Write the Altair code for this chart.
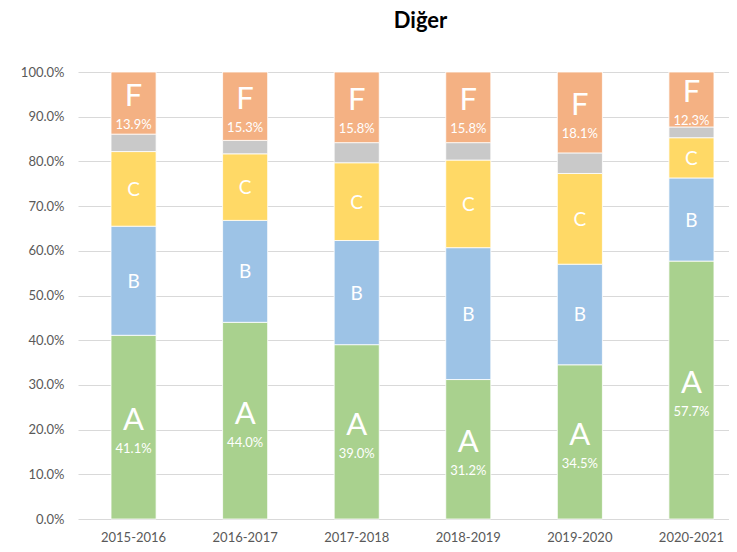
import altair as alt
import pandas as pd

years = ["2015-2016", "2016-2017", "2017-2018", "2018-2019", "2019-2020", "2020-2021"]
cats = ["A", "B", "C", "D", "F"]
A = [41.1, 44.0, 39.0, 31.2, 34.5, 57.7]
B = [24.4, 22.8, 23.3, 29.5, 22.5, 18.6]
C = [16.7, 14.9, 17.4, 19.6, 20.3, 9.0]
D = [3.9, 3.0, 4.5, 3.9, 4.6, 2.4]
F = [13.9, 15.3, 15.8, 15.8, 18.1, 12.3]
colors = ["#A9D18E", "#9DC3E6", "#FFD966", "#C9C9C9", "#F4B183"]
y_ticks = [i / 10 for i in range(11)]

series = {"A": A, "B": B, "C": C, "D": D, "F": F}
rows = []
for i, yr in enumerate(years):
    start = 0.0
    for c in cats:
        v = series[c][i] / 100.0
        end = start + v
        rows.append({
            "year": yr, "cat": c, "value": v, "start": start, "end": end,
            "mid": (start + end) / 2,
            "letter": "" if c == "D" else c,
            "pct": f"{series[c][i]:.1f}%" if c in ("A", "F") else "",
            "big": c in ("A", "F"),
        })
        start = end
df = pd.DataFrame(rows)

FONT = "Lato"
xscale = alt.Scale(domain=years, range=[0, 669], paddingInner=0.596, paddingOuter=0.296)
yscale = alt.Scale(domain=[0, 1])

base = alt.Chart(df)

bars = base.mark_bar(stroke="white", strokeWidth=0.8).encode(
    x=alt.X("year:N", scale=xscale, sort=years, title=None,
            axis=alt.Axis(labelAngle=0, ticks=False, domain=False, labelPadding=12,
                          labelFont=FONT, labelFontSize=13, labelColor="#595959")),
    y=alt.Y("start:Q", scale=yscale, title=None,
            axis=alt.Axis(values=y_ticks, format=".1%", ticks=False, domain=False,
                          labelPadding=14, labelFont=FONT, labelFontSize=13,
                          labelColor="#595959", gridColor="#D9D9D9", gridWidth=1)),
    y2="end:Q",
    color=alt.Color("cat:N", scale=alt.Scale(domain=cats, range=colors), legend=None),
)

big_letters = base.transform_filter("datum.big").mark_text(
    font=FONT, fontSize=31, color="white", baseline="alphabetic", dy=3
).encode(x=alt.X("year:N", scale=xscale, sort=years), y=alt.Y("mid:Q", scale=yscale), text="letter:N")

small_letters = base.transform_filter("!datum.big && datum.letter != ''").mark_text(
    font=FONT, fontSize=19, color="white", baseline="alphabetic", dy=7
).encode(x=alt.X("year:N", scale=xscale, sort=years), y=alt.Y("mid:Q", scale=yscale), text="letter:N")

pcts = base.transform_filter("datum.big").mark_text(
    font=FONT, fontSize=13, color="white", baseline="alphabetic", dy=26
).encode(x=alt.X("year:N", scale=xscale, sort=years), y=alt.Y("mid:Q", scale=yscale), text="pct:N")

chart = alt.layer(bars, big_letters, small_letters, pcts).properties(
    width=651, height=447,
    title=alt.Title("Diğer", font=FONT, fontSize=22, fontWeight="bold", color="#000000",
                    anchor="middle", offset=33, dx=17),
    autosize=alt.AutoSizeParams(type="none"),
    padding={"left": 70, "top": 64, "right": 0, "bottom": 25},
).configure_view(stroke=None)

chart.save("out.html", embed_options={"renderer": "svg", "actions": False})
